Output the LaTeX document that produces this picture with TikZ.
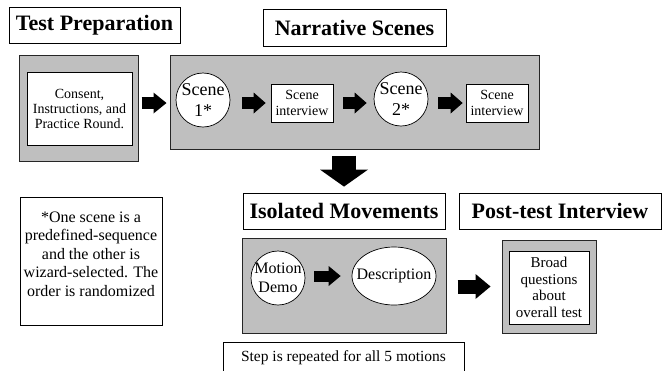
\documentclass[tikz,border=0pt]{standalone}
\usepackage{fontspec}
\setmainfont{Liberation Serif}
\usetikzlibrary{shapes.geometric,arrows.meta}

\definecolor{panelgray}{RGB}{191,191,191}

\begin{document}
\begin{tikzpicture}[x=1pt,y=-1pt,
    title/.style={draw,fill=white,line width=0.8pt,minimum height=36pt,inner sep=1pt,font=\fontsize{22}{26}\selectfont\bfseries},
    panel/.style={draw=black!85,fill=panelgray,line width=1pt},
    inbox/.style={draw,fill=white,line width=0.7pt,align=center,inner sep=1pt},
    disc/.style={circle,draw,fill=white,line width=0.7pt,minimum size=54pt,inner sep=-5pt,align=center},
    blockarrow/.style n args={3}{line width=#1,-{Triangle[width=#2,length=#3,line width=0pt]}}]
    \useasboundingbox (0,0) rectangle (668,370);
    % Titles
    \node (tprep) at (94.5,25) [title,minimum width=171pt] {Test Preparation};
    \node (tnarr) at (354.5,27.5) [title,minimum width=183pt,minimum height=37pt] {Narrative Scenes};
    \node (tiso) at (344,211) [title,minimum width=202pt] {Isolated Movements};
    \node (tpost) at (560,211) [title,minimum width=202pt] {Post-test Interview};
    % Grey panels
    \node (pprep) at (78.75,108) [panel,minimum width=119.5pt,minimum height=106pt] {};
    \node (pnarr) at (354.5,102) [panel,minimum width=369pt,minimum height=94pt] {};
    \node (piso) at (344,285.5) [panel,minimum width=204pt,minimum height=95pt] {};
    \node (ppost) at (549,286.5) [panel,minimum width=94pt,minimum height=93pt] {};
    % Steps
    \node (consent) at (79.5,108.5) [inbox,minimum width=105pt,minimum height=73pt,font=\fontsize{14}{15}\selectfont] {Consent,\\Instructions, and\\Practice Round.};
    \node (scene1) at (203,100) [disc,font=\fontsize{18}{21}\selectfont] {Scene\\1*};
    \node (int1) at (302,103) [inbox,minimum width=62pt,minimum height=38pt,font=\fontsize{14}{16}\selectfont] {Scene\\interview};
    \node (scene2) at (401,99) [disc,font=\fontsize{18}{21}\selectfont] {Scene\\2*};
    \node (int2) at (497,103) [inbox,minimum width=62pt,minimum height=38pt,font=\fontsize{14}{16}\selectfont] {Scene\\interview};
    \node (motion) at (278,278) [disc,font=\fontsize{16}{19}\selectfont] {Motion\\Demo};
    \node (descr) at (394,276) [ellipse,draw,fill=white,line width=0.7pt,minimum width=84pt,minimum height=58pt,inner sep=-8pt,font=\fontsize{16}{19}\selectfont] {Description};
    \node (broad) at (549,287.5) [inbox,minimum width=80pt,minimum height=73pt,font=\fontsize{15}{16.5}\selectfont] {Broad\\questions\\about\\overall test};
    % Notes
    \node (foot) at (91,261) [draw,line width=0.8pt,minimum width=142pt,minimum height=128pt] {};
    \node (foottext) at (91,254) [align=center,inner sep=0pt,font=\fontsize{16}{18.5}\selectfont] {*One scene is a\\predefined-sequence\\and the other is\\wizard-selected. The\\order is randomized};
    \node (repeat) at (343.5,358) [draw,line width=0.8pt,minimum width=241pt,minimum height=32pt,font=\fontsize{15.5}{18}\selectfont] {Step is repeated for all 5 motions};
    % Arrows
    \draw[blockarrow={12pt}{21pt}{13pt},shorten <=2.5pt,shorten >=3pt] (pprep.east |- int1) -- (pnarr.west |- int1);
    \draw[blockarrow={12pt}{21pt}{12pt},shorten <=12pt,shorten >=5pt] (scene1.east |- int1) -- (int1.west);
    \draw[blockarrow={12pt}{21pt}{12pt},shorten <=10pt,shorten >=7pt] (int1.east) -- (scene2.west |- int1);
    \draw[blockarrow={12pt}{21pt}{12pt},shorten <=10pt,shorten >=3pt] (scene2.east |- int2) -- (int2.west);
    \draw[blockarrow={24pt}{48pt}{17pt},shorten <=6pt,shorten >=6pt] (tiso.north |- pnarr.south) -- (tiso.north);
    \draw[blockarrow={11pt}{20pt}{12pt},shorten <=9pt,shorten >=11pt] (motion.east |- descr) -- (descr.west);
    \draw[blockarrow={14pt}{25pt}{15pt},shorten <=11pt,shorten >=11pt] (piso.east |- ppost) -- (ppost.west);
\end{tikzpicture}
\end{document}
